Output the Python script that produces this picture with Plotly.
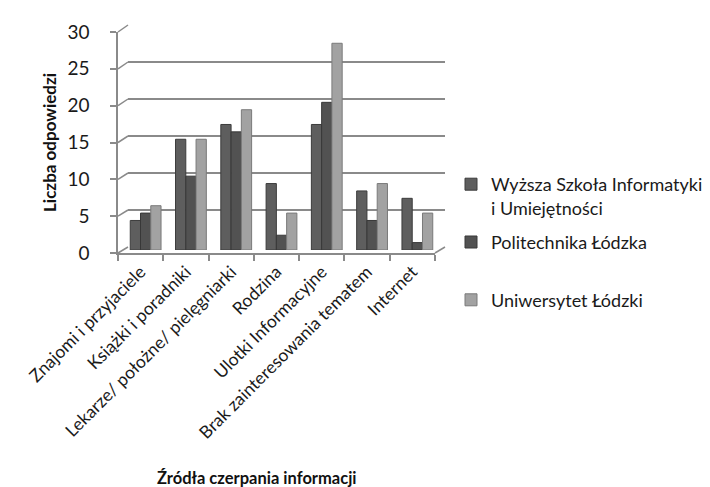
import plotly.graph_objects as go

W, H = 710, 487

categories = [
    "Znajomi i przyjaciele",
    "Książki i poradniki",
    "Lekarze/ położne/ pielęgniarki",
    "Rodzina",
    "Ulotki Informacyjne",
    "Brak zainteresowania tematem",
    "Internet",
]
series_names = [
    "Wyższa Szkoła Informatyki<br>i Umiejętności",
    "Politechnika Łódzka<br> ",
    "Uniwersytet Łódzki<br> ",
]
wsiu = [4, 15, 17, 9, 17, 8, 7]
pl = [5, 10, 16, 2, 20, 4, 1]
ul = [6, 15, 19, 5, 28, 9, 5]
y_ticks = [0, 5, 10, 15, 20, 25, 30]

colors = ["#5e5e5e", "#525252", "#a2a2a2"]
edges = ["#3c3c3c", "#383838", "#7a7a7a"]
grid_col = "#8a8a8a"
font = "Lato, 'Open Sans', sans-serif"


def px(x):
    return x / W


def py(y):
    return 1 - y / H


# pseudo-3D: back wall (gridlines), middle plane (bars), front plane (axes)
back = dict(x=(120, 437), y=(17, 239))
mid = dict(x=(115, 432), y=(20.5, 242))
front = dict(x=(110, 427), y=(24, 245))

fig = go.Figure()

# invisible helper so the back wall subplot (gridlines) is drawn
fig.add_trace(go.Scatter(
    x=[0], y=[0], mode="markers", marker=dict(opacity=0),
    showlegend=False, hoverinfo="skip", xaxis="x", yaxis="y",
))

for name, vals, c, e in zip(series_names, [wsiu, pl, ul], colors, edges):
    fig.add_trace(go.Bar(
        x=categories, y=vals, name=name, legendgroup=name,
        marker=dict(color=c, line=dict(color=e, width=1)),
        xaxis="x2", yaxis="y2",
    ))

# invisible helper so the front category axis gets its labels
fig.add_trace(go.Scatter(
    x=categories, y=[0] * len(categories), mode="markers",
    marker=dict(opacity=0), showlegend=False, hoverinfo="skip",
    xaxis="x3", yaxis="y3",
))

fig.update_layout(
    width=W, height=H,
    margin=dict(l=0, r=0, t=0, b=0, autoexpand=False),
    paper_bgcolor="white", plot_bgcolor="rgba(0,0,0,0)",
    font=dict(family=font, color="#1a1a1a"),
    barmode="group", bargap=0.32, bargroupgap=0,
    xaxis=dict(domain=[px(back["x"][0]), px(back["x"][1])], range=[-0.5, 6.5],
               showgrid=False, showticklabels=False, zeroline=False, anchor="y"),
    yaxis=dict(domain=[py(back["y"][1]), py(back["y"][0])], range=[0, 30],
               tickvals=y_ticks, showticklabels=False, showgrid=True,
               gridcolor=grid_col, gridwidth=1.5, zeroline=False, anchor="x"),
    xaxis2=dict(domain=[px(mid["x"][0]), px(mid["x"][1])], range=[-0.5, 6.5],
                showgrid=False, showticklabels=False, zeroline=False,
                anchor="y2", type="category"),
    yaxis2=dict(domain=[py(mid["y"][1]), py(mid["y"][0])], range=[0, 30],
                showgrid=False, showticklabels=False, zeroline=False, anchor="x2"),
    xaxis3=dict(domain=[px(front["x"][0]), px(front["x"][1])], range=[-0.5, 6.5],
                type="category", anchor="y3", showgrid=False, zeroline=False,
                showline=True, linecolor=grid_col, linewidth=1.5,
                ticks="outside", ticklen=6, tickcolor=grid_col, tickwidth=1.5,
                tickson="boundaries", tickangle=-45,
                tickfont=dict(size=17.5, color="#1a1a1a")),
    yaxis3=dict(domain=[py(front["y"][1]), py(front["y"][0])], range=[0, 30],
                tickvals=y_ticks, anchor="x3", showgrid=False, zeroline=False,
                showline=True, linecolor=grid_col, linewidth=1.5,
                ticks="outside", ticklen=6, tickcolor=grid_col, tickwidth=1.5,
                ticklabelstandoff=17,
                tickfont=dict(size=19, color="#1a1a1a")),
    legend=dict(x=px(443), y=py(158), xanchor="left", yanchor="top",
                font=dict(size=18, color="#1a1a1a"), valign="top",
                tracegroupgap=8, bgcolor="rgba(0,0,0,0)"),
    showlegend=True,
)

# perspective edges joining the front axis to the back wall
shapes = []
for v in y_ticks:
    yf = front["y"][1] - (front["y"][1] - front["y"][0]) * v / 30
    yb = back["y"][1] - (back["y"][1] - back["y"][0]) * v / 30
    shapes.append(dict(type="line", xref="paper", yref="paper",
                       x0=px(front["x"][0]), y0=py(yf), x1=px(back["x"][0]), y1=py(yb),
                       line=dict(color=grid_col, width=1.5)))
shapes.append(dict(type="line", xref="paper", yref="paper",
                   x0=px(front["x"][1]), y0=py(front["y"][1]),
                   x1=px(back["x"][1]), y1=py(back["y"][1]),
                   line=dict(color=grid_col, width=1.5)))
fig.update_layout(shapes=shapes)

fig.add_annotation(text="<b>Liczba odpowiedzi</b>", textangle=-90,
                   x=px(42), y=py(135), xref="paper", yref="paper",
                   xanchor="center", yanchor="middle",
                   showarrow=False, font=dict(size=17, color="#111111"))
fig.add_annotation(text="<b>Źródła czerpania informacji</b>",
                   x=px(249), y=py(470), xref="paper", yref="paper",
                   xanchor="center", yanchor="middle",
                   showarrow=False, font=dict(size=16.5, color="#111111"))

fig.write_html("out.html")
